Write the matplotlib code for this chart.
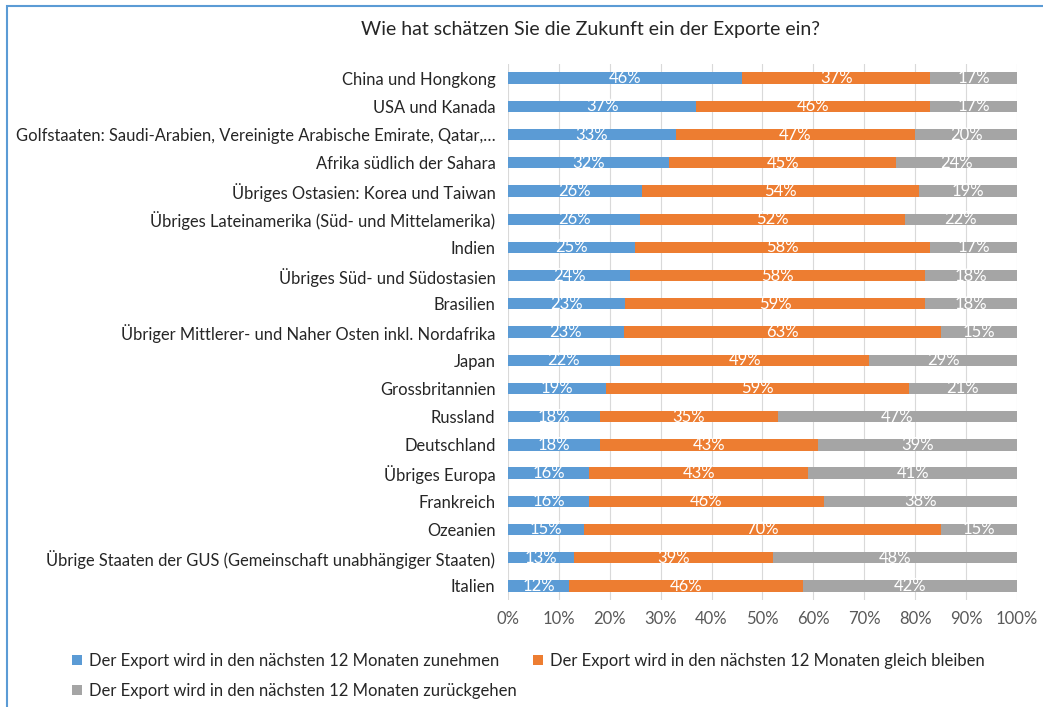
import numpy as np
import matplotlib
matplotlib.use("Agg")
import matplotlib.pyplot as plt
from matplotlib.patches import Rectangle

plt.rcParams['font.family'] = ['Lato', 'DejaVu Sans']

# data (percent)
categories = [
    "China und Hongkong",
    "USA und Kanada",
    "Golfstaaten: Saudi-Arabien, Vereinigte Arabische Emirate, Qatar,…",
    "Afrika südlich der Sahara",
    "Übriges Ostasien: Korea und Taiwan",
    "Übriges Lateinamerika (Süd- und Mittelamerika)",
    "Indien",
    "Übriges Süd- und Südostasien",
    "Brasilien",
    "Übriger Mittlerer- und Naher Osten inkl. Nordafrika",
    "Japan",
    "Grossbritannien",
    "Russland",
    "Deutschland",
    "Übriges Europa",
    "Frankreich",
    "Ozeanien",
    "Übrige Staaten der GUS (Gemeinschaft unabhängiger Staaten)",
    "Italien",
]
zunehmen = [46, 37, 33, 32, 26, 26, 25, 24, 23, 23, 22, 19, 18, 18, 16, 16, 15, 13, 12]
gleich = [37, 46, 47, 45, 54, 52, 58, 58, 59, 63, 49, 59, 35, 43, 43, 46, 70, 39, 46]
zurueck = [17, 17, 20, 24, 19, 22, 17, 18, 18, 15, 29, 21, 47, 39, 41, 38, 15, 48, 42]

series_names = [
    "Der Export wird in den nächsten 12 Monaten zunehmen",
    "Der Export wird in den nächsten 12 Monaten gleich bleiben",
    "Der Export wird in den nächsten 12 Monaten zurückgehen",
]
colors = ["#5B9BD5", "#ED7D31", "#A5A5A5"]

fig = plt.figure(figsize=(10.43, 7.07), dpi=100)
ax = fig.add_axes([0.487, 0.1513, 0.488, 0.7582])

raw = np.array([zunehmen, gleich, zurueck], dtype=float)
share = raw / raw.sum(axis=0) * 100  # 100% stacked
y = np.arange(len(categories))
left = np.zeros(len(categories))
handles = []
for i in range(3):
    bars = ax.barh(y, share[i], left=left, height=0.4, color=colors[i],
                   label=series_names[i], zorder=3)
    handles.append(bars)
    for j in range(len(categories)):
        ax.text(left[j] + share[i][j] / 2, y[j], f"{int(raw[i][j])}%",
                ha="center", va="center", color="white", fontsize=12, zorder=4)
    left += share[i]

ax.set_ylim(len(categories) - 0.5, -0.5)
ax.set_xlim(0, 100)
ax.set_xticks(np.arange(0, 101, 10))
ax.set_xticklabels([f"{t}%" for t in range(0, 101, 10)], color="#595959", fontsize=12)
ax.set_yticks(y)
ax.set_yticklabels(categories, fontsize=11.9, color="#262626")
ax.tick_params(axis="both", length=0, pad=8)
ax.tick_params(axis="y", pad=9)
ax.grid(axis="x", color="#D9D9D9", linewidth=0.8, zorder=0)
for s in ax.spines.values():
    s.set_visible(False)

fig.text(0.566, 0.958, "Wie hat schätzen Sie die Zukunft ein der Exporte ein?",
         ha="center", va="center", fontsize=14, color="#262626")

# Excel-style row-major legend
leg = fig.legend([handles[0], handles[2], handles[1]],
                 [series_names[0], series_names[2], series_names[1]],
                 ncol=2, loc="upper left", bbox_to_anchor=(0.063, 0.086),
                 frameon=False, fontsize=12, handlelength=0.6, handleheight=0.6,
                 handletextpad=0.4, columnspacing=1.0, labelspacing=0.85,
                 borderaxespad=0)
for t in leg.get_texts():
    t.set_color("#262626")

# blue frame round the chart
fig.patches.append(Rectangle((7 / 1043, -0.1), 1.2, 1 - 6 / 707 + 0.1,
                             transform=fig.transFigure, fill=False,
                             edgecolor="#5B9BD5", linewidth=1.5))

fig.savefig("out.png", dpi=100)
